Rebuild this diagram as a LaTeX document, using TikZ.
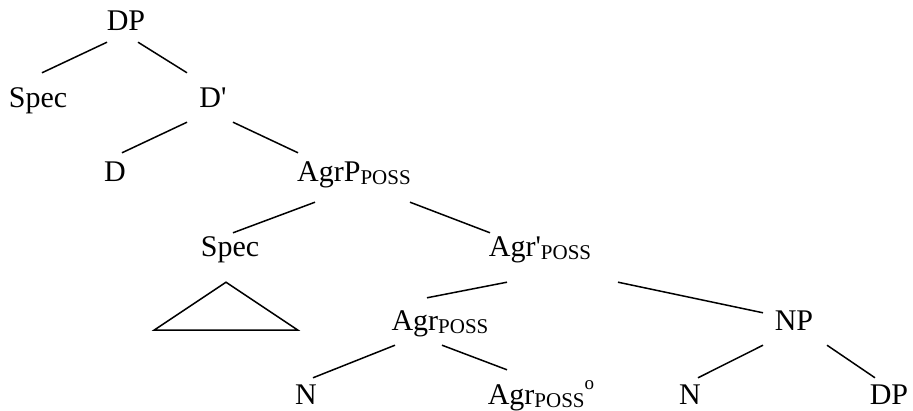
\documentclass[tikz,border=0pt]{standalone}
\usepackage{fontspec}
% plain family: keeps the straight apostrophe of D' and Agr'
\newfontfamily\treefont{Liberation Serif}
\newcommand{\possub}{\raisebox{-3pt}{\fontsize{21}{21}\selectfont POSS}}
\begin{document}
\begin{tikzpicture}[x=1pt,y=-1pt,
  lbl/.style={inner sep=0pt,anchor=base,text height=18pt,text depth=0pt,
    font=\treefont\fontsize{30}{32}\selectfont},
  branch/.style={line width=1.5pt}]
\useasboundingbox (0,0) rectangle (913,411);
% labels
\node[lbl] (dp)     at (126,31)  {DP};
\node[lbl] (spec1)  at (38,108)  {Spec};
\node[lbl] (dbar)   at (213,108) {D'};
\node[lbl] (d)      at (115,182) {D};
\node[lbl] (agrp)   at (354,182) {AgrP\possub};
\node[lbl] (spec2)  at (230,257) {Spec};
\node[lbl] (agrbar) at (540,257) {Agr'\possub};
\node[lbl] (agr)    at (440,331) {Agr\possub};
\node[lbl] (np)     at (794,331) {NP};
\node[lbl] (n1)     at (306,405) {N};
\node[lbl,text height=22pt] (agro) at (541,405)
  {Agr\possub\raisebox{15pt}{\fontsize{19}{19}\selectfont o}};
\node[lbl] (n2)     at (690,405) {N};
\node[lbl] (dp2)    at (889,405) {DP};
% branches
\draw[branch] ([shift={(-19,11)}]dp.south)    -- ([shift={(4,-17)}]spec1.north);
\draw[branch] ([shift={(12,11)}]dp.south)     -- ([shift={(-26,-17)}]dbar.north);
\draw[branch] ([shift={(-26,14)}]dbar.south)  -- ([shift={(7,-11)}]d.north);
\draw[branch] ([shift={(20,14)}]dbar.south)   -- ([shift={(-56,-11)}]agrp.north);
\draw[branch] ([shift={(-39,20)}]agrp.south)  -- ([shift={(3,-6)}]spec2.north);
\draw[branch] ([shift={(56,20)}]agrp.south)   -- ([shift={(-50,-6)}]agrbar.north);
\draw[branch] ([shift={(-33,25)}]agrbar.south) -- ([shift={(-13,-15)}]agr.north);
\draw[branch] ([shift={(78,25)}]agrbar.south)  -- ([shift={(-31,0)}]np.north);
\draw[branch] ([shift={(-45,14)}]agr.south)   -- ([shift={(7,-9)}]n1.north);
\draw[branch] ([shift={(2,14)}]agr.south)     -- ([shift={(-34,-13)}]agro.north);
\draw[branch] ([shift={(-31,14)}]np.south)    -- ([shift={(8,-9)}]n2.north);
\draw[branch] ([shift={(33,14)}]np.south)     -- ([shift={(-14,-9)}]dp2.north);
% triangle under the lower Spec
\draw[branch,line join=miter] ([shift={(-4,25)}]spec2.south)
  -- ([shift={(-76,73)}]spec2.south) -- ([shift={(68,73)}]spec2.south) -- cycle;
\end{tikzpicture}
\end{document}
